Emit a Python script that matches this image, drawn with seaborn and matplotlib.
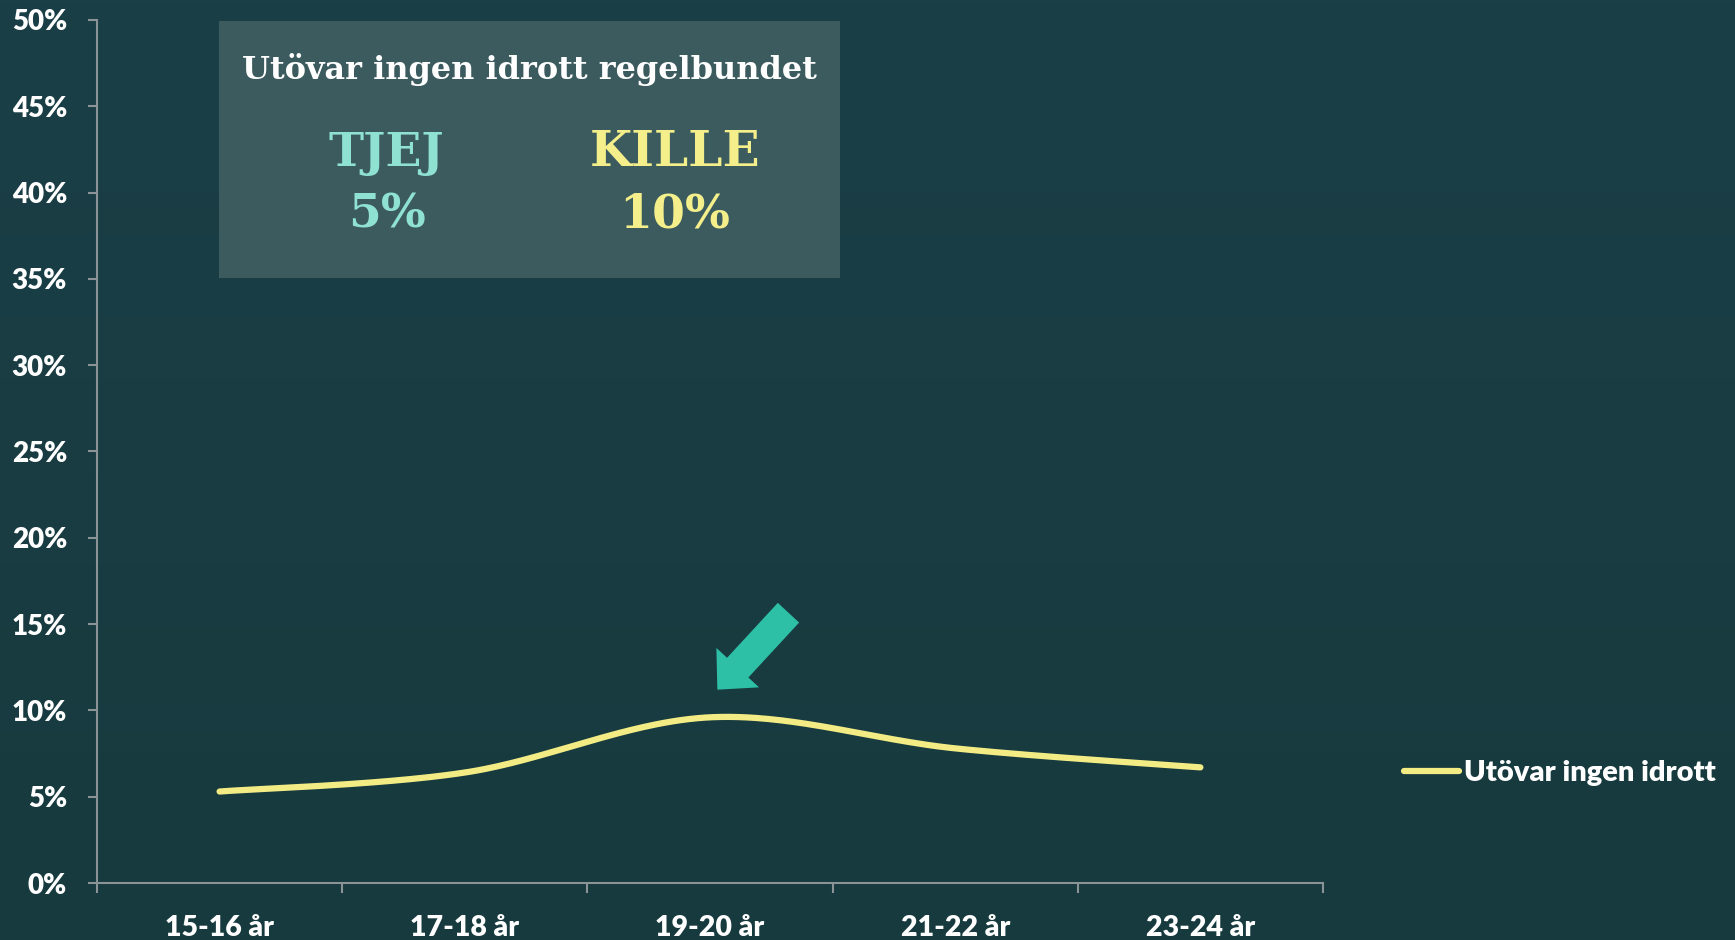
import numpy as np
import pandas as pd
import matplotlib
matplotlib.use("Agg")
import matplotlib.pyplot as plt
from matplotlib.patches import Rectangle
from matplotlib.colors import LinearSegmentedColormap
from matplotlib.lines import Line2D
import seaborn as sns

# ---- data ----
categories = ["15-16 år", "17-18 år", "19-20 år", "21-22 år", "23-24 år"]
values = [5.3, 6.4, 9.6, 7.8, 6.7]
series_name = "Utövar ingen idrott"
yticks = [0, 5, 10, 15, 20, 25, 30, 35, 40, 45, 50]
box_title = "Utövar ingen idrott regelbundet"
box_labels = ["TJEJ", "KILLE"]
box_values = ["5%", "10%"]

# ---- style ----
BG_TOP = "#1b3f47"
BG_BOT = "#173a3e"
BOX = "#3b5b5e"
LINE = "#f3ec85"
TJEJ_C = "#8fe1d2"
KILLE_C = "#f5ef8b"
ARROW_C = "#2ec0a6"
AXIS_C = "#8a9496"

sns.set_theme(style="white")
plt.rcParams["font.family"] = ["Lato", "DejaVu Sans"]

W, H = 1735, 940
fig = plt.figure(figsize=(W / 100, H / 100), dpi=100)

# background gradient
bg = fig.add_axes([0, 0, 1, 1], zorder=-10)
grad = np.linspace(0, 1, 256).reshape(-1, 1)
cmap = LinearSegmentedColormap.from_list("bg", [BG_TOP, BG_BOT])
bg.imshow(grad, aspect="auto", cmap=cmap, extent=[0, 1, 0, 1], origin="upper")
bg.set_axis_off()

def fx(px):
    return px / W

def fy(py):
    return 1 - py / H

ax = fig.add_axes([fx(97), fy(883), fx(1323) - fx(97), fy(20) - fy(883)])
ax.set_facecolor("none")

# smoothed line (Excel-style Bezier smoothing through the data points)
x = np.arange(len(values), dtype=float)
y = np.array(values, dtype=float)
px = np.concatenate([[x[0]], x, [x[-1]]])
py = np.concatenate([[y[0]], y, [y[-1]]])
xs, ys = [], []
t = np.linspace(0, 1, 60)
for i in range(1, len(px) - 2):
    p0 = np.array([px[i], py[i]])
    p3 = np.array([px[i + 1], py[i + 1]])
    p1 = p0 + (np.array([px[i + 1], py[i + 1]]) - np.array([px[i - 1], py[i - 1]])) / 6
    p2 = p3 - (np.array([px[i + 2], py[i + 2]]) - np.array([px[i], py[i]])) / 6
    b = ((1 - t) ** 3)[:, None] * p0 + (3 * (1 - t) ** 2 * t)[:, None] * p1 \
        + (3 * (1 - t) * t ** 2)[:, None] * p2 + (t ** 3)[:, None] * p3
    xs.extend(b[:, 0]); ys.extend(b[:, 1])
df = pd.DataFrame({"x": xs, "y": ys, "s": series_name})
sns.lineplot(data=df, x="x", y="y", hue="s", palette=[LINE], sort=False,
             estimator=None, linewidth=4.5, ax=ax, legend=False,
             solid_capstyle="round")

ax.set_xlim(-0.5, len(categories) - 0.5)
ax.set_ylim(0, 50)
ax.set_yticks(yticks)
ax.set_yticklabels([f"{v}%" for v in yticks])
ax.set_xticks(range(len(categories)))
ax.set_xticklabels(categories)
ax.set_xticks(np.arange(-0.5, len(categories)), minor=True)
ax.set_xlabel(""); ax.set_ylabel("")
for s in ["top", "right"]:
    ax.spines[s].set_visible(False)
for s in ["left", "bottom"]:
    ax.spines[s].set_color(AXIS_C)
    ax.spines[s].set_linewidth(1.5)
ax.tick_params(axis="y", which="major", left=True, length=6.5, width=1.5,
               color=AXIS_C, pad=15, labelsize=20, labelcolor="white")
ax.tick_params(axis="x", which="major", bottom=False, length=0, pad=23,
               labelsize=20.5, labelcolor="white")
ax.tick_params(axis="x", which="minor", bottom=True, length=7, width=1.5,
               color=AXIS_C)
for lab in ax.get_yticklabels() + ax.get_xticklabels():
    lab.set_fontweight("heavy")

# arrow
ax.annotate("", xy=(2.03, 11.2), xytext=(2.32, 15.66),
            arrowprops=dict(arrowstyle="simple,head_length=21.6,head_width=41.8,tail_width=20.9",
                            mutation_scale=1, color=ARROW_C, shrinkA=0, shrinkB=0, lw=0))

# legend
h = Line2D([], [], color=LINE, linewidth=4.5, solid_capstyle="round")
leg = fig.legend([h], [series_name], loc="center left",
                 bbox_to_anchor=(fx(1404), fy(773)), frameon=False,
                 borderpad=0, borderaxespad=0, handlelength=1.9,
                 handletextpad=0.15, prop={"weight": "heavy", "size": 21})
for tx in leg.get_texts():
    tx.set_color("white")

# info box
fig.patches.append(Rectangle((fx(219), fy(278)), fx(840) - fx(219), fy(21) - fy(278),
                             transform=fig.transFigure, facecolor=BOX, edgecolor="none",
                             zorder=1))
serif = ["DejaVu Serif"]
fig.text(fx(529.5), fy(70), box_title, ha="center", va="center", color="white",
         fontsize=23, fontweight="bold", family=serif, zorder=2)
fig.text(fx(386.6), fy(153), box_labels[0], ha="center", va="center", color=TJEJ_C,
         fontsize=34, fontweight="bold", family=serif, zorder=2)
fig.text(fx(674.7), fy(153), box_labels[1], ha="center", va="center", color=KILLE_C,
         fontsize=35, fontweight="bold", family=serif, zorder=2)
fig.text(fx(386.6), fy(214), box_values[0], ha="center", va="center", color=TJEJ_C,
         fontsize=34, fontweight="bold", family=serif, zorder=2)
fig.text(fx(674.7), fy(214), box_values[1], ha="center", va="center", color=KILLE_C,
         fontsize=34, fontweight="bold", family=serif, zorder=2)

fig.savefig("out.png", dpi=100)
